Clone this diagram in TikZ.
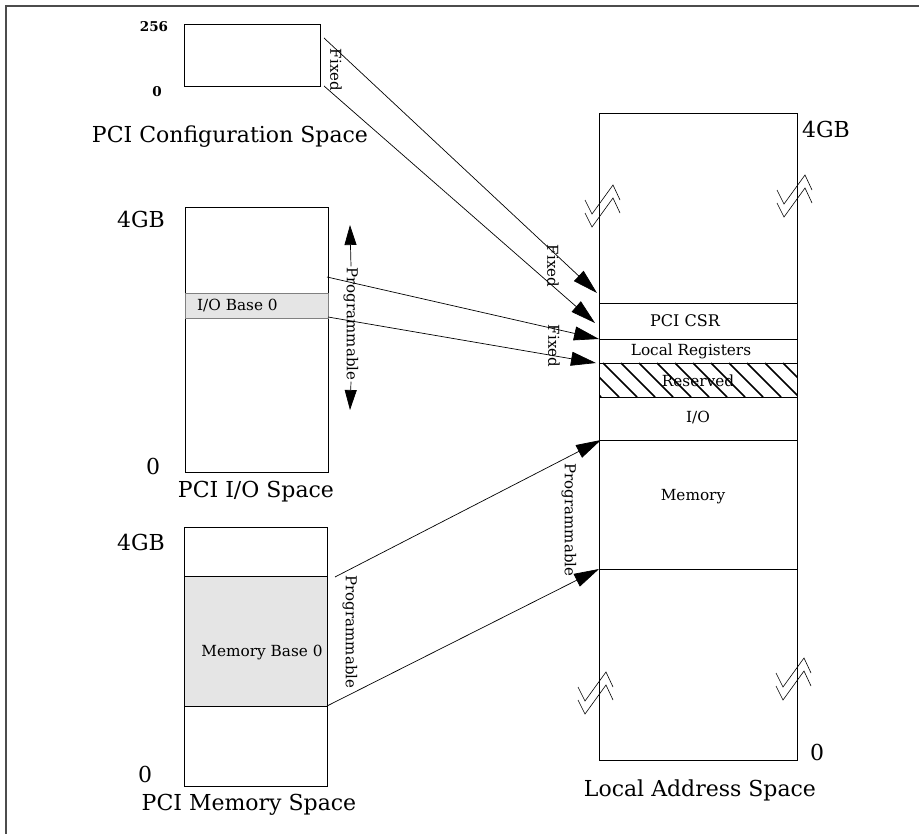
\documentclass[tikz,border=0pt]{standalone}
\usepackage{fontspec}
\setmainfont{DejaVu Serif}
\usetikzlibrary{arrows.meta}
\begin{document}
\begin{tikzpicture}[x=1pt,y=-1pt,
  box/.style={draw=black,line width=0.8pt,inner sep=0pt,outer sep=0pt,anchor=north west},
  big/.style={font=\fontsize{22}{26}\selectfont,inner sep=0pt},
  mid/.style={font=\fontsize{16}{19}\selectfont,inner sep=0pt},
  sml/.style={font=\fontsize{15.3}{18}\selectfont,inner sep=0pt},
  tinyb/.style={font=\fontsize{13.5}{16}\selectfont\bfseries,inner sep=0pt},
  rot/.style={font=\fontsize{15}{18}\selectfont,inner sep=1pt,rotate=-90},
  conn/.style={line width=0.7pt,-{Triangle[length=25pt,width=14pt]}},
  dbl/.style={line width=0.7pt,-{Triangle[length=20pt,width=12pt]}},
  brk/.pic={\draw[line width=0.6pt] (0,0) -- (7,14) -- (28,-15) -- (35,0);
            \draw[line width=0.6pt] (0,13) -- (7,27) -- (28,-2) -- (35,13);}
]
\useasboundingbox (0,0) rectangle (919,834);
% frame
\draw[line width=1.5pt,gray!60!black] (6,834) -- (6,6) -- (919,6);

% PCI configuration space
\node[box,minimum width=136pt,minimum height=62pt] (cfg) at (184,24) {};
\node[tinyb,anchor=base] (n256) at (154,32) {256};
\node[tinyb,anchor=base] (n0c) at (157,97) {0};
\node[big,anchor=base] (cfgt) at (230,143) {PCI Configuration Space};

% PCI I/O space
\node[box,minimum width=143pt,minimum height=265pt] (iosp) at (185,207) {};
\node[box,draw=gray,fill=gray!20,minimum width=143pt,minimum height=25pt] (iob) at (185,293) {};
\node[sml,anchor=base west] (iobt) at (197,311) {I/O Base 0};
\node[big,anchor=base] (io4) at (141,228) {4GB};
\node[big,anchor=base] (io0) at (153,474) {0};
\node[big,anchor=base] (iot) at (256,497) {PCI I/O Space};

% PCI memory space
\node[box,minimum width=143pt,minimum height=259pt] (msp) at (184,527) {};
\node[box,fill=gray!20,minimum width=143pt,minimum height=130pt] (mb) at (184,576) {};
\node[sml,anchor=base] (mbt) at (262,656) {Memory Base 0};
\node[big,anchor=base] (m4) at (141,550) {4GB};
\node[big,anchor=base] (m0) at (145,782) {0};
\node[big,anchor=base] (mt) at (249,810) {PCI Memory Space};

% Local address space
\node[box,minimum width=198pt,minimum height=190pt] (lup) at (599,113) {};
\node[box,minimum width=198pt,minimum height=36pt] (csr) at (599,303) {};
\node[box,minimum width=198pt,minimum height=24pt] (lreg) at (599,339) {};
\node[box,minimum width=198pt,minimum height=34pt] (resv) at (599,363) {};
\node[box,minimum width=198pt,minimum height=43pt] (lio) at (599,397) {};
\node[box,minimum width=198pt,minimum height=129pt] (lmem) at (599,440) {};
\node[box,minimum width=198pt,minimum height=191pt] (llow) at (599,569) {};
\begin{scope}
  \clip (resv.north west) rectangle (resv.south east);
  \foreach \x in {567,585,...,800} \draw[line width=1.5pt] (\x,363) -- ++(34,34);
\end{scope}
\draw[line width=0.8pt] (resv.north west) rectangle (resv.south east);
\node[mid,anchor=base] (csrt) at (685,327) {PCI CSR};
\node[sml,anchor=base] (lregt) at (691,356) {Local Registers};
\node[sml,anchor=base] (resvt) at (698,387) {Reserved};
\node[sml,anchor=base] (liot) at (698,423) {I/O};
\node[sml,anchor=base] (lmemt) at (693,500) {Memory};
\node[big,anchor=base] (l4) at (826,138) {4GB};
\node[big,anchor=base] (l0) at (817,760) {0};
\node[big,anchor=base] (lt) at (700,796) {Local Address Space};

% break marks
\pic at (585,200) {brk};
\pic at (777,190) {brk};
\pic at (578,687) {brk};
\pic at (776,673) {brk};

% connectors
\coordinate (c1s) at (324,38);
\coordinate (c2s) at (324,86);
\coordinate (c1e) at (597,293);
\coordinate (c2e) at (595,323);
\coordinate (i1s) at (327,277);
\coordinate (i2s) at (328,317);
\coordinate (m1s) at (335,577);
\draw[conn] (c1s) -- (c1e);
\draw[conn] (c2s) -- (c2e);
\draw[conn] (i1s) -- (lreg.north west);
\draw[conn] (i2s) -- ([xshift=-3pt]lreg.south west);
\draw[conn] (m1s) -- ([xshift=2pt]lio.south west);
\draw[conn] (mb.south east) -- (lmem.south west);

% labels on connectors
\node[rot] (fx1) at (336,70) {Fixed};
\node[rot] (fx2) at (553,266) {Fixed};
\node[rot] (fx3) at (554,346) {Fixed};
\node[rot] (pg2) at (350,632) {Programmable};
\node[rot] (pg3) at (569,520) {Programmable};

% programmable double arrow
\coordinate (ptop) at (350,225);
\coordinate (pbot) at (350,410);
\node[rot] (pg1) at (351,324) {Programmable};
\draw[dbl] (pg1.west) -- (ptop);
\draw[dbl] (pg1.east) -- (pbot);
\end{tikzpicture}
\end{document}
